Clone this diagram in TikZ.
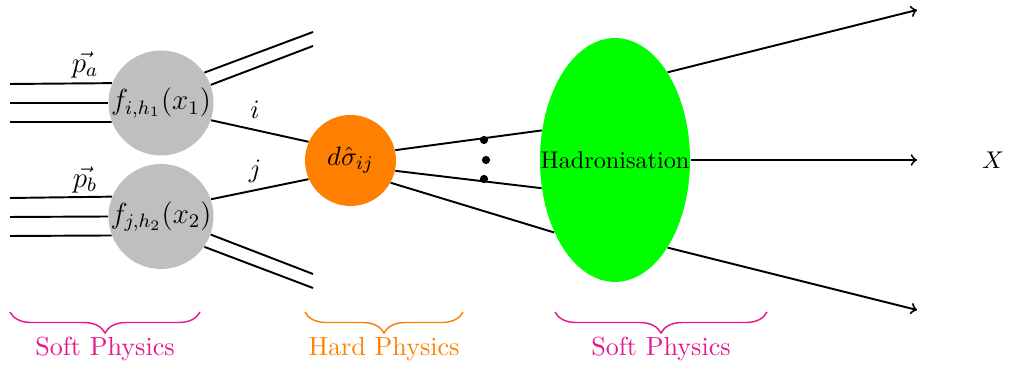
\documentclass[tikz,border=0pt]{standalone}
\usetikzlibrary{shapes.geometric,decorations.pathreplacing}
\definecolor{softpink}{RGB}{230,25,140}
\definecolor{hardorange}{RGB}{255,128,0}
\begin{document}
\begin{tikzpicture}[x=0.4133pt,y=0.4133pt,
  line/.style={thick},
  pdf/.style={circle,fill=lightgray,minimum size=43.4pt,inner sep=0pt},
  hard/.style={circle,fill=hardorange,minimum size=37.6pt,inner sep=0pt},
  hadr/.style={ellipse,fill=green,minimum width=62pt,minimum height=100.8pt,inner sep=0pt},
  dotn/.style={circle,fill=black,inner sep=0pt,minimum size=3.4pt},
  bracedec/.style={decorate,decoration={brace,mirror,amplitude=8.7pt},line width=0.6pt},
  physlabel/.style={font=\fontsize{10.8}{13}\selectfont},
  pdftext/.style={font=\fontsize{11.6}{14}\selectfont,inner sep=0pt},
  hardtext/.style={font=\fontsize{10.8}{13}\selectfont,inner sep=0pt},
  plabel/.style={font=\fontsize{12}{14}\selectfont},
  ijlabel/.style={font=\fontsize{11}{13}\selectfont}
]
\useasboundingbox (0,0) rectangle (1011,367);
% nodes
\node[pdf] (A) at (161,264) {};
\node[pdftext] (At) at (A) {$f_{i,h_1}(x_1)$};
\node[pdf] (B) at (161,150.5) {};
\node[pdftext] (Bt) at (B) {$f_{j,h_2}(x_2)$};
\node[hard] (O) at (350.5,206.5) {};
\node[hardtext] (Ot) at (O) {$d\hat{\sigma}_{ij}$};
\node[hadr] (H) at (615,207) {};
\node[inner sep=0pt] (Ht) at (H) {Hadronisation};
% free ends
\coordinate (a1) at (10,283);
\coordinate (a2) at (10,264);
\coordinate (a3) at (10,245);
\coordinate (b1) at (10,169);
\coordinate (b2) at (10,150);
\coordinate (b3) at (10,131);
\coordinate (ra1) at (313,335);
\coordinate (ra2) at (313,321);
\coordinate (rb1) at (313,93);
\coordinate (rb2) at (313,79);
\coordinate (x1) at (917,357);
\coordinate (x2) at (917,207);
\coordinate (x3) at (917,57);
% incoming hadrons
\draw[line] (a1) -- (A.158.8);
\draw[line] (a2) -- (A.180);
\draw[line] (a3) -- (A.201.2);
\draw[line] (b1) -- (B.158.8);
\draw[line] (b2) -- (B.180);
\draw[line] (b3) -- (B.201.2);
% remnants
\draw[line] (A.35) -- (ra1);
\draw[line] (A.20.4) -- (ra2);
\draw[line] (B.-20.4) -- (rb1);
\draw[line] (B.-35) -- (rb2);
% partons
\draw[line] (A.-19) -- (O.156);
\draw[line] (B.19) -- (O.204);
\node[ijlabel] (il) at (255,257) {$i$};
\node[ijlabel] (jl) at (255,196) {$j$};
% hard outgoing
\draw[line] (O.13) -- (H.158.3);
\draw[line] (O.-13) -- (H.201.7);
\draw[line] (O.-29.7) -- (H.230.6);
% dots
\node[dotn] (d1) at (484,227) {};
\node[dotn] (d2) at (486,207) {};
\node[dotn] (d3) at (484,188) {};
% final state
\draw[line,->] (H.59.4) -- (x1);
\draw[line,->] (H.0) -- (x2);
\draw[line,->] (H.-59.4) -- (x3);
\node (X) at (993,207) {$X$};
% momenta labels
\node[plabel] (pa) at (85,302) {$\vec{p_a}$};
\node[plabel] (pb) at (85,187) {$\vec{p_b}$};
% braces
\coordinate (s1l) at (10,55);
\coordinate (s1r) at (200,55);
\coordinate (hl) at (305,55);
\coordinate (hr) at (463,55);
\coordinate (s2l) at (555,55);
\coordinate (s2r) at (767,55);
\draw[bracedec,softpink] (s1l) -- (s1r);
\draw[bracedec,hardorange] (hl) -- (hr);
\draw[bracedec,softpink] (s2l) -- (s2r);
\node[physlabel,text=softpink] (L1) at (105,18) {Soft Physics};
\node[physlabel,text=hardorange] (L2) at (384,18) {Hard Physics};
\node[physlabel,text=softpink] (L3) at (661,18) {Soft Physics};
\end{tikzpicture}
\end{document}
